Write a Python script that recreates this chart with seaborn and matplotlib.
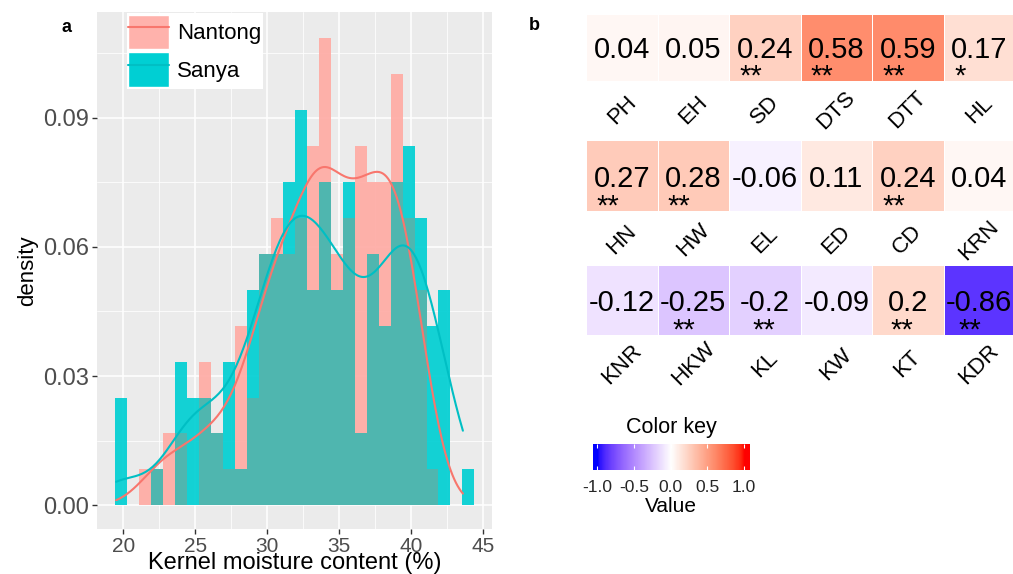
import numpy as np
import matplotlib
matplotlib.use("Agg")
import matplotlib.pyplot as plt
import seaborn as sns
from matplotlib.colors import ListedColormap, to_rgb
from matplotlib.patches import Patch
from matplotlib.lines import Line2D

# ---- panel a: kernel moisture content, 30 shared bins ----
bin_start = 19.42
bin_width = 0.8327
sanya_counts = [3, 0, 0, 1, 0, 4, 3, 3, 2, 4, 1, 6, 7, 7, 9, 11, 6, 9, 6, 9,
                2, 7, 5, 9, 10, 8, 5, 6, 0, 1]
nantong_counts = [0, 0, 1, 1, 2, 2, 0, 4, 2, 1, 5, 3, 7, 8, 7, 8, 10, 13, 7, 8,
                  10, 9, 9, 12, 8, 6, 1, 0, 0, 0]
kde_range = (19.5, 43.6)
sites = ["Nantong", "Sanya"]
x_ticks = [20, 25, 30, 35, 40, 45]
y_ticks = [0.00, 0.03, 0.06, 0.09]

# ---- panel b: correlation with kernel moisture ----
traits = [["PH", "EH", "SD", "DTS", "DTT", "HL"],
          ["HN", "HW", "EL", "ED", "CD", "KRN"],
          ["KNR", "HKW", "KL", "KW", "KT", "KDR"]]
corr = [[0.04, 0.05, 0.24, 0.58, 0.59, 0.17],
        [0.27, 0.28, -0.06, 0.11, 0.24, 0.04],
        [-0.12, -0.25, -0.2, -0.09, 0.2, -0.86]]
signif = [["", "", "**", "**", "**", "*"],
          ["**", "**", "", "", "**", ""],
          ["", "**", "**", "", "**", "**"]]
key_ticks = [-1.0, -0.5, 0.0, 0.5, 1.0]

sns.set_style("white")
plt.rcParams["font.family"] = ["Liberation Sans", "DejaVu Sans"]
plt.rcParams["axes.unicode_minus"] = False
plt.rcParams["text.color"] = "black"
plt.rcParams["axes.labelcolor"] = "black"

W, H = 1013, 574
fig = plt.figure(figsize=(W / 100, H / 100), dpi=100)


def px_axes(left, top, right, bottom):
    return fig.add_axes([left / W, 1 - bottom / H, (right - left) / W, (bottom - top) / H])


# blue - white - red ramp interpolated in Lab space
def srgb_to_lab(rgb):
    c = np.asarray(rgb, float)
    lin = np.where(c <= 0.04045, c / 12.92, ((c + 0.055) / 1.055) ** 2.4)
    m = np.array([[0.4124, 0.3576, 0.1805], [0.2126, 0.7152, 0.0722], [0.0193, 0.1192, 0.9505]])
    xyz = m @ lin / np.array([0.95047, 1.0, 1.08883])
    f = np.where(xyz > (6 / 29) ** 3, np.cbrt(xyz), xyz / (3 * (6 / 29) ** 2) + 4 / 29)
    return np.array([116 * f[1] - 16, 500 * (f[0] - f[1]), 200 * (f[1] - f[2])])


def lab_to_srgb(lab):
    L, a, b = lab
    fy = (L + 16) / 116
    f = np.array([fy + a / 500, fy, fy - b / 200])
    xyz = np.where(f > 6 / 29, f ** 3, 3 * (6 / 29) ** 2 * (f - 4 / 29)) * np.array([0.95047, 1.0, 1.08883])
    minv = np.array([[3.2406, -1.5372, -0.4986], [-0.9689, 1.8758, 0.0415], [0.0557, -0.2040, 1.0570]])
    lin = np.clip(minv @ xyz, 0, 1)
    return np.where(lin <= 0.0031308, 12.92 * lin, 1.055 * lin ** (1 / 2.4) - 0.055)


lab_b, lab_w, lab_r = (srgb_to_lab(to_rgb(c)) for c in ("blue", "white", "red"))
ramp = []
for t in np.linspace(0, 1, 256):
    if t < 0.5:
        lab = lab_b + (lab_w - lab_b) * (t / 0.5)
    else:
        lab = lab_w + (lab_r - lab_w) * ((t - 0.5) / 0.5)
    ramp.append(np.clip(lab_to_srgb(lab), 0, 1))
cmap = ListedColormap(ramp)

# ---------------- panel a ----------------
n_bins = len(sanya_counts)
edges = bin_start + bin_width * np.arange(n_bins + 1)
centers = (edges[:-1] + edges[1:]) / 2
sanya = np.array(sanya_counts, float)
nantong = np.array(nantong_counts, float)
dens_s = sanya / (sanya.sum() * bin_width)
dens_n = nantong / (nantong.sum() * bin_width)
dens_both = np.minimum(dens_s, dens_n)

pink_fill, cyan_fill, teal_fill = "#FFABA4", "#00CFD3", "#42B7B0"
pink_line, cyan_line = "#F8766D", "#00BFC4"

ax = px_axes(97, 12, 492.4, 529)
ax.set_facecolor("#EBEBEB")
for s in ax.spines.values():
    s.set_visible(False)

for dens, col in [(dens_s, cyan_fill), (dens_n, pink_fill), (dens_both, teal_fill)]:
    sns.histplot(x=centers, weights=dens, bins=n_bins, binrange=(edges[0], edges[-1]),
                 stat="count", color=col, alpha=0.92, linewidth=0, ax=ax)

sns.kdeplot(x=centers, weights=nantong, bw_adjust=0.55, clip=kde_range, cut=4,
            color=pink_line, lw=1.5, ax=ax, zorder=4)
sns.kdeplot(x=centers, weights=sanya, bw_adjust=0.55, clip=kde_range, cut=4,
            color=cyan_line, lw=1.5, ax=ax, zorder=4)

xr = edges[-1] - edges[0]
ax.set_xlim(edges[0] - 0.05 * xr, edges[-1] + 0.05 * xr)
ax.set_ylim(-0.0055, 0.1145)
ax.set_xticks(x_ticks)
ax.set_yticks(y_ticks)
ax.set_yticklabels([f"{v:.2f}" for v in y_ticks])
ax.set_xticks([v + 2.5 for v in x_ticks[:-1]], minor=True)
ax.set_yticks([v + 0.015 for v in y_ticks], minor=True)
ax.set_axisbelow(True)
ax.grid(which="major", color="white", lw=1.1)
ax.grid(which="minor", color="white", lw=0.55)
ax.tick_params(which="major", length=3.5, width=1, color="#333333", labelcolor="#4D4D4D",
               bottom=True, left=True)
ax.tick_params(axis="x", labelsize=15, pad=2)
ax.tick_params(axis="y", labelsize=17, pad=2)
ax.tick_params(which="minor", length=0)
ax.set_xlabel("Kernel moisture content (%)", fontsize=17, va="bottom")
ax.xaxis.set_label_coords(0.5, -45 / 517)
ax.set_ylabel("density", fontsize=16, labelpad=4)

handles = [(Patch(facecolor="#FFB2AC"), Line2D([0], [0], color=pink_line, lw=1.5)),
           (Patch(facecolor=cyan_fill), Line2D([0], [0], color=cyan_line, lw=1.5))]
ax.legend(handles, sites, loc="upper left",
          bbox_to_anchor=((126.6 - 97) / 395.4, (529 - 13) / 517),
          frameon=True, facecolor="white", edgecolor="none", fancybox=False, framealpha=1,
          handlelength=1.85, handleheight=2.0, labelspacing=0.15, borderpad=0.08,
          handletextpad=0.35, fontsize=16, borderaxespad=0)

fig.text(66 / W, 1 - 27 / H, "a", fontsize=13, fontweight="bold", ha="center", va="center")
fig.text(534 / W, 1 - 26 / H, "b", fontsize=13, fontweight="bold", ha="center", va="center")

# ---------------- panel b ----------------
rows_px = [(14, 81), (140, 211), (265, 335)]
num_texts = []
for r, (top, bot) in enumerate(rows_px):
    hax = px_axes(586, top, 1015, bot)
    sns.heatmap(np.array([corr[r]]), ax=hax, cmap=cmap, vmin=-1, vmax=1, cbar=False,
                linewidths=0.6, linecolor="white", xticklabels=False, yticklabels=False)
    h = bot - top
    for c, v in enumerate(corr[r]):
        t = hax.text(c + 0.5, 0.66, f"{v:g}", ha="center", va="baseline", fontsize=21)
        num_texts.append((hax, t, r, c, v))
        hax.text(c + 0.5, 1 + 29 / h, traits[r][c], rotation=45, ha="center", va="center",
                 fontsize=16, rotation_mode="anchor")

fig.canvas.draw()
renderer = fig.canvas.get_renderer()
for hax, t, r, c, v in num_texts:
    if not signif[r][c]:
        continue
    bb = t.get_window_extent(renderer)
    w_abs, _, _ = renderer.get_text_width_height_descent(f"{abs(v):g}", t.get_fontproperties(), ismath=False)
    x_px = bb.x1 - w_abs + 3
    x_data = hax.transData.inverted().transform((x_px, 0))[0]
    hax.text(x_data, 1.05, signif[r][c], ha="left", va="baseline", fontsize=21)

# color key
cax = px_axes(592.7, 444.3, 749.3, 470)
lo, hi = -1.06, 1.07
grad = np.linspace(lo, hi, 300)[None, :]
cax.imshow(grad, extent=[lo, hi, 0, 1], aspect="auto", cmap=cmap, vmin=-1, vmax=1)
cax.set_xlim(lo, hi)
cax.set_yticks([])
cax.set_xticks(key_ticks)
cax.set_xticklabels([f"{v:.1f}" for v in key_ticks])
cax.tick_params(axis="x", direction="in", length=3, width=0.8, color="white",
                labelsize=12.5, pad=7.5, top=True, bottom=True)
for s in cax.spines.values():
    s.set_visible(False)
fig.text(671 / W, 1 - 427 / H, "Color key", fontsize=15.5, ha="center", va="center")
fig.text(671 / W, 1 - 507 / H, "Value", fontsize=15, ha="center", va="center")

fig.savefig("out.png", dpi=100)
